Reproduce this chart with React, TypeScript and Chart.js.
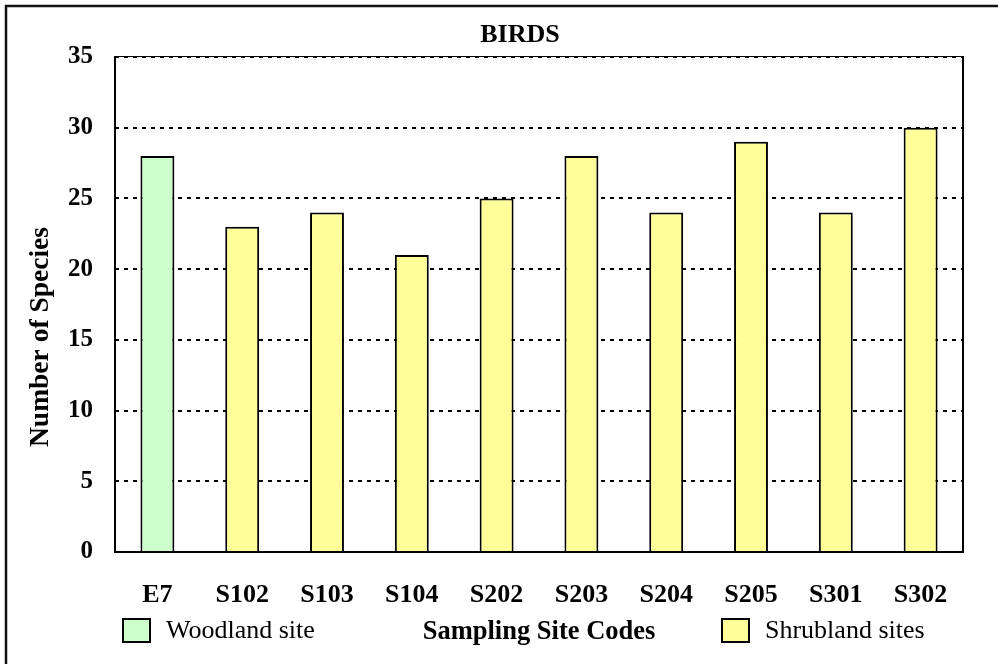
import React, { useEffect, useRef } from "react";
import { Chart, registerables } from "chart.js";

Chart.register(...registerables);

// Sampling sites along the x axis
const sites = ["E7", "S102", "S103", "S104", "S202", "S203", "S204", "S205", "S301", "S302"];
// Number of bird species recorded at each site
const speciesCounts = [28, 23, 24, 21, 25, 28, 24, 29, 24, 30];
// Habitat type of each site
const siteTypes = ["woodland", "shrub", "shrub", "shrub", "shrub", "shrub", "shrub", "shrub", "shrub", "shrub"];
// Y axis range and step
const yMin = 0;
const yMax = 35;
const yStep = 5;

const woodlandLabel = "Woodland site";
const shrubLabel = "Shrubland sites";
const chartTitle = "BIRDS";
const xTitle = "Sampling Site Codes";
const yTitle = "Number of Species";

const GREEN = "#CCFFCC";
const YELLOW = "#FFFF99";
const SERIF = '"Liberation Serif", "Times New Roman", serif';

const decorations = {
  id: "decorations",
  afterDraw(chart: any) {
    const { ctx, chartArea } = chart;
    const { left, right, top, bottom } = chartArea;
    ctx.save();
    ctx.setLineDash([]);
    ctx.strokeStyle = "#000";

    // plot frame
    ctx.lineWidth = 1;
    ctx.beginPath();
    ctx.moveTo(left, top - 0.5);
    ctx.lineTo(right, top - 0.5);
    ctx.stroke();
    ctx.lineWidth = 2;
    ctx.beginPath();
    ctx.moveTo(left, top - 1);
    ctx.lineTo(left, bottom);
    ctx.lineTo(right, bottom);
    ctx.lineTo(right, top - 1);
    ctx.stroke();

    // outer frame (left and top edges)
    ctx.lineWidth = 2.5;
    ctx.strokeStyle = "#111";
    ctx.beginPath();
    ctx.moveTo(6, chart.height);
    ctx.lineTo(6, 6);
    ctx.lineTo(chart.width, 6);
    ctx.stroke();

    ctx.fillStyle = "#000";
    ctx.textAlign = "center";
    ctx.textBaseline = "middle";

    // title
    ctx.font = `bold 26px ${SERIF}`;
    ctx.fillText(chartTitle, 520, 35);

    // x axis title
    ctx.font = `bold 26.5px ${SERIF}`;
    ctx.fillText(xTitle, (left + right) / 2, 632);

    // y axis title
    ctx.save();
    ctx.font = `bold 27.5px ${SERIF}`;
    ctx.translate(41, 337);
    ctx.rotate(-Math.PI / 2);
    ctx.fillText(yTitle, 0, 0);
    ctx.restore();

    // legend
    const items = [
      { label: woodlandLabel, color: GREEN, x: 123 },
      { label: shrubLabel, color: YELLOW, x: 722 },
    ];
    ctx.font = `26px ${SERIF}`;
    ctx.textAlign = "left";
    for (const it of items) {
      ctx.fillStyle = it.color;
      ctx.fillRect(it.x, 619, 27, 23);
      ctx.lineWidth = 2;
      ctx.strokeStyle = "#000";
      ctx.strokeRect(it.x, 619, 27, 23);
      ctx.fillStyle = "#000";
      ctx.fillText(it.label, it.x + 43, 631);
    }
    ctx.restore();
  },
};

export default function App() {
  const ref = useRef<HTMLCanvasElement>(null);

  useEffect(() => {
    if (!ref.current) return;
    const woodland = speciesCounts.map((v, i) => (siteTypes[i] === "woodland" ? v : null));
    const shrub = speciesCounts.map((v, i) => (siteTypes[i] === "shrub" ? v : null));
    const chart = new Chart(ref.current, {
      type: "bar",
      data: {
        labels: sites,
        datasets: [
          {
            label: woodlandLabel,
            data: woodland,
            backgroundColor: GREEN,
            borderColor: "#000",
            borderWidth: 2,
            grouped: false,
            barPercentage: 0.4,
            categoryPercentage: 1,
          },
          {
            label: shrubLabel,
            data: shrub,
            backgroundColor: YELLOW,
            borderColor: "#000",
            borderWidth: 2,
            grouped: false,
            barPercentage: 0.4,
            categoryPercentage: 1,
          },
        ],
      },
      options: {
        responsive: false,
        animation: false,
        layout: { padding: { left: 0, top: 57, right: 35, bottom: 52 } },
        plugins: {
          legend: { display: false },
          title: { display: false },
          tooltip: { enabled: false },
        },
        scales: {
          x: {
            grid: { display: false },
            border: { display: false },
            ticks: {
              color: "#000",
              font: { family: SERIF, size: 26, weight: "bold" },
              padding: 20,
              maxRotation: 0,
              autoSkip: false,
            },
            afterFit: (scale: any) => {
              scale.height = 60;
            },
          },
          y: {
            min: yMin,
            max: yMax,
            grid: { color: "#000", lineWidth: 2, drawTicks: false },
            border: { display: false, dash: [4, 5] },
            ticks: {
              stepSize: yStep,
              color: "#000",
              font: { family: SERIF, size: 25, weight: "bold" },
              padding: 22,
            },
            afterFit: (scale: any) => {
              scale.width = 115;
            },
          },
        },
      },
      plugins: [decorations],
    });
    return () => chart.destroy();
  }, []);

  return (
    <canvas
      ref={ref}
      width={998}
      height={664}
      style={{ position: "fixed", left: 0, top: 0, width: 998, height: 664, background: "#fff" }}
    />
  );
}
